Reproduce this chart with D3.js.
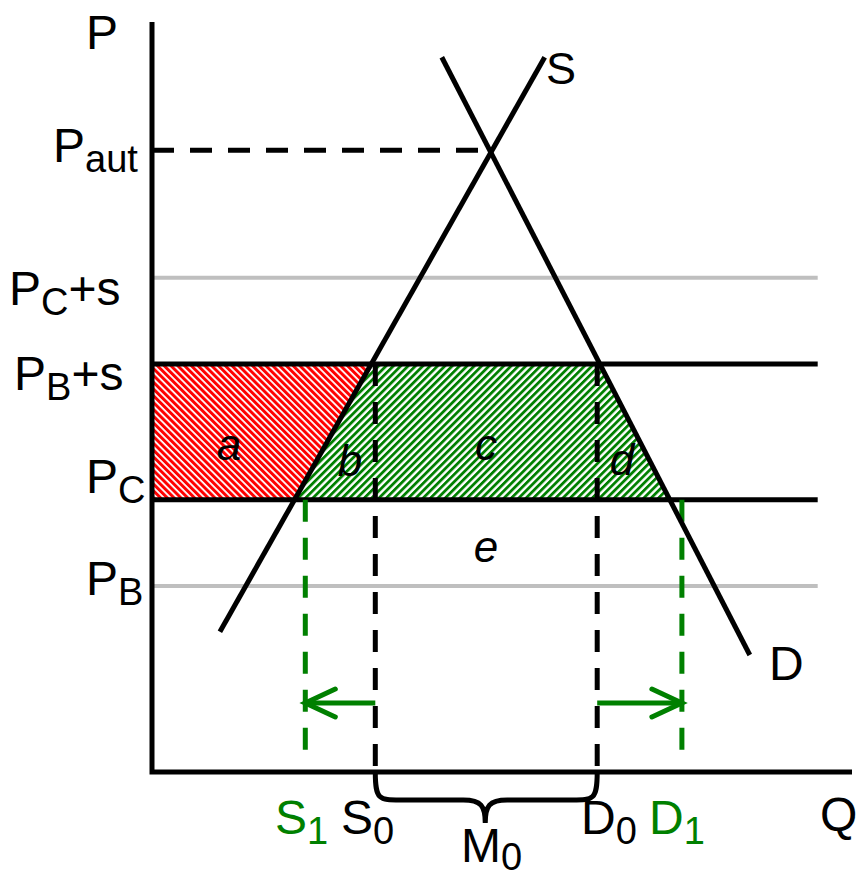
<!DOCTYPE html>
<html><head><meta charset="utf-8">
<script src="https://cdn.jsdelivr.net/npm/d3@7"></script>
<style>
html,body{margin:0;padding:0;background:#fff;}
svg{display:block;}
text{font-family:"Liberation Sans",Arial,Helvetica,sans-serif;}
</style></head>
<body>
<script>
// ---- data (price / quantity units) ----
const priceNames  = ["P_aut", "P_C+s", "P_B+s", "P_C", "P_B"];
const priceValues = [82.9, 65.9, 54.4, 36.3, 24.8];
const qtyNames  = ["S1", "S0", "D0", "D1"];
const qtyValues = [21.9, 31.9, 63.6, 75.7];
const supplyQ = [9.7, 56.1];
const supplyP = [18.7, 95.3];
const demandQ = [41.4, 85.4];
const demandP = [95.3, 15.6];
const areaLabels = ["a", "b", "c", "d", "e"];

const W = 859, H = 877;
const x = d3.scaleLinear().domain([0, 100]).range([152, 852]);
const y = d3.scaleLinear().domain([0, 100]).range([772, 22]);
const price = n => priceValues[priceNames.indexOf(n)];
const qty = n => qtyValues[qtyNames.indexOf(n)];
const sQ = p => supplyQ[0] + (supplyQ[1]-supplyQ[0])*(p-supplyP[0])/(supplyP[1]-supplyP[0]);
const dQ = p => demandQ[0] + (demandQ[1]-demandQ[0])*(p-demandP[0])/(demandP[1]-demandP[0]);

const BLACK = "#000", GREEN = "#008000", RED = "#ff0000", GRAY = "#bfbfbf";
const SW = 5;
const svg = d3.select("body").append("svg").attr("width", W).attr("height", H);
const defs = svg.append("defs");

function hatch(id, color, angle, period, w) {
  const p = defs.append("pattern").attr("id", id).attr("patternUnits", "userSpaceOnUse")
    .attr("width", period).attr("height", period)
    .attr("patternTransform", `rotate(${angle})`);
  p.append("rect").attr("width", period).attr("height", period).attr("fill", "#fff");
  p.append("rect").attr("width", w).attr("height", period).attr("fill", color);
}
hatch("redHatch", RED, -45, 4.8, 3.0);
hatch("greenHatch", GREEN, 45, 5.2, 2.8);

const line = d3.line().x(d => x(d[0])).y(d => y(d[1]));
const pTop = price("P_B+s"), pBot = price("P_C");
const qEnd = 95.1;

// hatched areas
svg.append("path").attr("d", line([[0,pTop],[sQ(pTop),pTop],[sQ(pBot),pBot],[0,pBot]]) + "Z")
  .attr("fill", "url(#redHatch)");
svg.append("path").attr("d", line([[sQ(pTop),pTop],[dQ(pTop),pTop],[dQ(pBot),pBot],[sQ(pBot),pBot]]) + "Z")
  .attr("fill", "url(#greenHatch)");

// gray price lines
["P_C+s","P_B"].forEach(n => {
  svg.append("path").attr("d", line([[0,price(n)],[qEnd,price(n)]]))
    .attr("stroke", GRAY).attr("stroke-width", 4).attr("fill", "none");
});
// black price lines
["P_B+s","P_C"].forEach(n => {
  svg.append("path").attr("d", line([[0,price(n)],[qEnd,price(n)]]))
    .attr("stroke", BLACK).attr("stroke-width", SW).attr("fill", "none");
});
// autarky dashed
svg.append("path").attr("d", line([[0,price("P_aut")],[dQ(price("P_aut")),price("P_aut")]]))
  .attr("stroke", BLACK).attr("stroke-width", SW).attr("stroke-dasharray", "22,16").attr("fill","none");

// vertical dashed quantity lines
[["S0",BLACK,pTop,0],["D0",BLACK,pTop,0],["S1",GREEN,pBot,1.6],["D1",GREEN,pBot,1.6]].forEach(([n,c,p0,p1]) => {
  svg.append("path").attr("d", line([[qty(n),p0],[qty(n),p1]]))
    .attr("stroke", c).attr("stroke-width", SW).attr("stroke-dasharray", "22,16").attr("fill","none");
});

// supply & demand
svg.append("path").attr("d", line(supplyQ.map((q,i)=>[q,supplyP[i]])))
  .attr("stroke", BLACK).attr("stroke-width", SW).attr("fill","none");
svg.append("path").attr("d", line(demandQ.map((q,i)=>[q,demandP[i]])))
  .attr("stroke", BLACK).attr("stroke-width", SW).attr("fill","none");

// green arrows
const arrowP = 9.2;
function arrow(q0, q1) {
  const x0 = x(q0), x1 = x(q1), yy = y(arrowP), dir = Math.sign(x1-x0);
  const g = svg.append("g").attr("stroke", GREEN).attr("stroke-width", SW)
    .attr("stroke-linecap", "round").attr("fill", "none");
  g.append("path").attr("d", `M${x0},${yy}L${x1},${yy}`).attr("stroke-linecap","butt");
  g.append("path").attr("d", `M${x1-dir*30},${yy-14}L${x1},${yy}L${x1-dir*30},${yy+14}`);
}
arrow(qty("S0"), qty("S1"));
arrow(qty("D0"), qty("D1"));

// axes
svg.append("path").attr("d", `M${x(0)},${y(100)}L${x(0)},${y(0)}L${x(100)},${y(0)}`)
  .attr("stroke", BLACK).attr("stroke-width", SW).attr("fill","none");

// brace under imports
{
  const xa = x(qty("S0")), xb = x(qty("D0")), y0 = y(0), y1 = y0 + 28, y2 = y0 + 51;
  const xm = (xa + xb) / 2 - 1;
  svg.append("path").attr("d",
    `M${xa},${y0} C${xa},${y1} ${xa+4},${y1} ${xa+25},${y1} L${xm-22},${y1} C${xm-4},${y1} ${xm},${y1+6} ${xm},${y2}` +
    ` C${xm},${y1+6} ${xm+4},${y1} ${xm+22},${y1} L${xb-25},${y1} C${xb-4},${y1} ${xb},${y1} ${xb},${y0}`)
    .attr("stroke", BLACK).attr("stroke-width", SW).attr("fill","none");
}

// text helper
function label(tx, ty, parts, color, size, subOff) {
  const so = subOff == null ? 10 : subOff;
  const t = svg.append("text").attr("x", tx).attr("y", ty).attr("fill", color || BLACK)
    .attr("font-size", size || 48);
  let off = 0;
  parts.forEach(([s, sub]) => {
    const target = sub ? so : 0;
    t.append("tspan").attr("dy", target - off).attr("font-size", sub ? 38 : (size || 48)).text(s);
    off = target;
  });
  return t;
}
label(86, 49, [["P"]]);
label(53, 162, [["P"],["aut",1]]);
label(9, 305, [["P"],["C",1],["+s"]]);
label(14, 390, [["P"],["B",1],["+s"]]);
label(86, 493, [["P"],["C",1]]);
label(86, 595, [["P"],["B",1]]);
label(546, 84, [["S"]], BLACK, 45);
label(769, 680, [["D"]]);
label(820, 831, [["Q"]]);
label(275, 834, [["S"],["1",1]], GREEN);
label(341, 834, [["S"],["0",1]]);
label(461, 862, [["M"],["0",1]], BLACK, 48, 8);
label(581, 834, [["D"],["0",1]]);
label(649, 834, [["D"],["1",1]], GREEN);

// area labels (italic)
const areaPos = [[229,460],[350,476],[486,460],[622,475],[486,562]];
areaLabels.forEach((s,i) => {
  svg.append("text").attr("x", areaPos[i][0]).attr("y", areaPos[i][1])
    .attr("text-anchor","middle").attr("font-style","italic").attr("font-size", 44).text(s);
});
</script>
</body></html>
